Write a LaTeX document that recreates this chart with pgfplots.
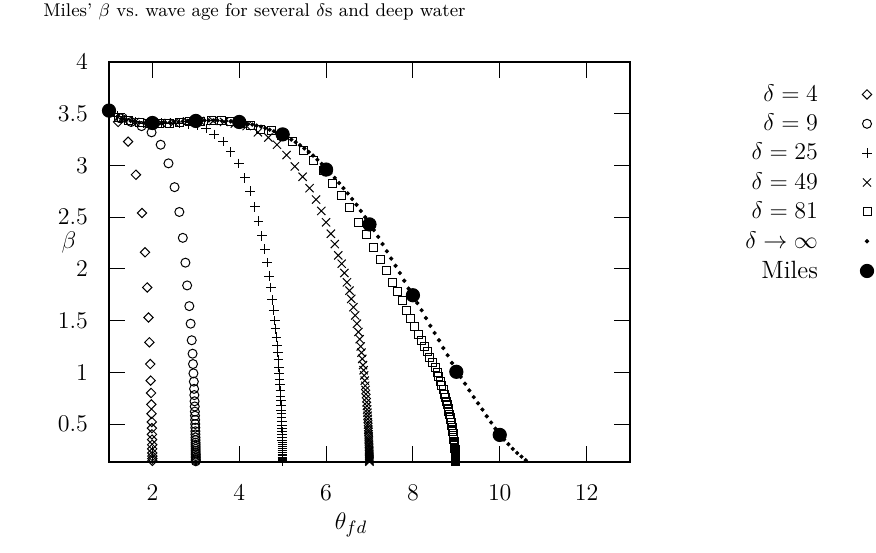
\documentclass[border=0pt]{standalone}
\usepackage{pgfplots}
\pgfplotsset{compat=1.18}
\newcommand\lbl{\fontsize{12.5}{15}\selectfont}
\newcommand\deltainf{$\delta\rightarrow\infty$}
\begin{document}
\begin{tikzpicture}
\useasboundingbox (-54.5pt,-45pt) rectangle (383.5pt,231pt);
\begin{axis}[
  at={(0pt,0pt)}, anchor=south west,
  scale only axis, width=260.5pt, height=200pt,
  xmin=1, xmax=13, ymin=0.133, ymax=4,
  xtick={2,4,...,12}, ytick={0.5,1,...,4},
  tick align=inside, major tick length=8pt,
  tick style={black, line width=0.5pt},
  axis line style={line width=0.6pt},
  ticklabel style={font=\lbl},
  xticklabel style={yshift=-8pt},
  yticklabel style={xshift=-7pt},
  clip=false,
  every axis plot/.append style={black, line width=0.5pt, only marks},
  legend cell align=right, legend plot pos=right,
  legend style={draw=none, fill=none, at={(1.476,0.9435)}, anchor=north east,
    inner sep=0pt, outer sep=0pt, row sep=4.85pt, column sep=0pt, font=\lbl,
    nodes={inner sep=0pt}},
  legend image code/.code={\path[draw=none, fill=none] (0pt,-3.6pt) rectangle (30pt,3.6pt);
    \draw[#1] plot coordinates {(24.5pt,0pt)};},
]
% delta = 4
\addplot[mark=square, mark size=1.65pt, mark options={rotate=45}] coordinates {
 (1.00,3.52) (1.21,3.42) (1.44,3.23) (1.62,2.91) (1.76,2.54) (1.83,2.16)
 (1.88,1.82) (1.91,1.53) (1.93,1.29) (1.95,1.08) (1.96,0.92) (1.97,0.80)
 (1.975,0.69) (1.98,0.60) (1.985,0.52) (1.988,0.46) (1.99,0.40) (1.992,0.35)
 (1.994,0.30) (1.995,0.26) (1.996,0.22) (1.997,0.19) (1.998,0.165) (1.999,0.145)
};
\addlegendentry{$\delta = 4$}
% delta = 9
\addplot[mark=o, mark size=2.25pt] coordinates {
 (1.02,3.51) (1.27,3.455) (1.51,3.42) (1.75,3.38) (1.98,3.32) (2.19,3.20)
 (2.37,3.02) (2.51,2.79) (2.62,2.55) (2.70,2.30) (2.76,2.06) (2.80,1.84)
 (2.85,1.64) (2.88,1.47) (2.905,1.31) (2.925,1.18) (2.935,1.08) (2.945,0.99)
 (2.954,0.91) (2.960,0.84) (2.966,0.78) (2.971,0.72) (2.975,0.67) (2.978,0.62)
 (2.981,0.58) (2.984,0.54) (2.986,0.50) (2.988,0.465) (2.990,0.43) (2.991,0.40)
 (2.992,0.37) (2.993,0.345) (2.994,0.32) (2.995,0.30) (2.996,0.28) (2.996,0.26)
 (2.997,0.24) (2.997,0.22) (2.998,0.205) (2.998,0.19) (2.998,0.175) (2.999,0.16)
 (2.999,0.15) (2.999,0.14)
};
\addlegendentry{$\delta = 9$}
% delta = 25
\addplot[mark=+, mark size=2.4pt] coordinates {
 (1.00,3.52) (1.20,3.475) (1.40,3.44) (1.60,3.42) (1.80,3.41) (2.00,3.41)
 (2.20,3.41) (2.41,3.41) (2.62,3.41) (2.83,3.40) (3.03,3.385) (3.24,3.357)
 (3.42,3.30) (3.63,3.23) (3.80,3.13) (3.99,3.02) (4.13,2.88) (4.25,2.75)
 (4.36,2.60) (4.44,2.46) (4.52,2.32) (4.59,2.19) (4.64,2.06) (4.69,1.93)
 (4.73,1.82) (4.76,1.70) (4.795,1.60) (4.82,1.50) (4.839,1.42) (4.856,1.34)
 (4.873,1.26) (4.887,1.19) (4.900,1.12) (4.912,1.05) (4.922,0.99) (4.931,0.93)
 (4.938,0.88) (4.946,0.82) (4.953,0.77) (4.957,0.73) (4.963,0.68) (4.968,0.635)
 (4.971,0.60) (4.975,0.56) (4.978,0.52) (4.981,0.49) (4.983,0.455) (4.986,0.425)
 (4.988,0.395) (4.989,0.37) (4.990,0.345) (4.992,0.32) (4.993,0.30) (4.994,0.28)
 (4.995,0.26) (4.995,0.24) (4.996,0.225) (4.996,0.21) (4.997,0.195) (4.997,0.18)
 (4.998,0.17) (4.998,0.16) (4.998,0.15) (4.998,0.14)
};
\addlegendentry{$\delta = 25$}
% delta = 49
\addplot[mark=x, mark size=2.9pt] coordinates {
 (1.00,3.52) (1.30,3.455) (1.60,3.42) (1.90,3.41) (2.20,3.41) (2.50,3.415)
 (2.80,3.425) (3.10,3.43) (3.40,3.43) (3.65,3.42) (3.90,3.405) (4.17,3.38)
 (4.43,3.32) (4.67,3.27) (4.87,3.20) (5.09,3.10) (5.28,2.99) (5.46,2.89)
 (5.62,2.78) (5.77,2.67) (5.89,2.56) (6.00,2.45) (6.11,2.34) (6.20,2.24)
 (6.28,2.13) (6.36,2.05) (6.42,1.96) (6.48,1.87) (6.54,1.79) (6.58,1.71)
 (6.63,1.63) (6.67,1.55) (6.71,1.47) (6.745,1.39) (6.774,1.32) (6.797,1.25)
 (6.816,1.19) (6.834,1.13) (6.851,1.07) (6.865,1.02) (6.878,0.97) (6.890,0.92)
 (6.902,0.87) (6.910,0.83) (6.919,0.79) (6.927,0.75) (6.934,0.71) (6.941,0.675)
 (6.947,0.64) (6.952,0.61) (6.956,0.58) (6.961,0.55) (6.965,0.52) (6.968,0.495)
 (6.971,0.47) (6.974,0.445) (6.977,0.425) (6.979,0.40) (6.981,0.38) (6.983,0.36)
 (6.985,0.345) (6.986,0.33) (6.988,0.31) (6.989,0.295) (6.990,0.28) (6.991,0.265)
 (6.992,0.25) (6.993,0.24) (6.993,0.23) (6.994,0.215) (6.995,0.205) (6.995,0.195)
 (6.996,0.185) (6.996,0.175) (6.996,0.165) (6.997,0.158) (6.997,0.15) (6.997,0.143)
 (6.998,0.136)
};
\addlegendentry{$\delta = 49$}
% delta = 81
\addplot[mark=square, mark size=2pt] coordinates {
 (1.00,3.52) (1.23,3.465) (1.46,3.435) (1.70,3.415) (1.93,3.41) (2.16,3.41)
 (2.40,3.41) (2.63,3.415) (2.86,3.42) (3.10,3.425) (3.35,3.43) (3.58,3.43)
 (3.80,3.42) (4.02,3.41) (4.25,3.385) (4.48,3.35) (4.74,3.34) (4.98,3.29)
 (5.23,3.23) (5.48,3.14) (5.71,3.05) (5.94,2.95) (6.15,2.83) (6.36,2.71)
 (6.55,2.59) (6.75,2.45) (6.92,2.33) (7.09,2.21) (7.25,2.09) (7.39,1.98)
 (7.52,1.87) (7.64,1.78) (7.75,1.69) (7.86,1.60) (7.95,1.52) (8.04,1.44)
 (8.12,1.37) (8.19,1.31) (8.26,1.25) (8.33,1.20) (8.39,1.145) (8.45,1.095)
 (8.51,1.045) (8.56,1.00) (8.599,0.955) (8.636,0.91) (8.667,0.87) (8.697,0.83)
 (8.725,0.79) (8.749,0.755) (8.772,0.72) (8.794,0.685) (8.811,0.655) (8.828,0.625)
 (8.844,0.595) (8.860,0.565) (8.872,0.54) (8.883,0.515) (8.894,0.49) (8.903,0.47)
 (8.913,0.445) (8.921,0.425) (8.928,0.405) (8.935,0.385) (8.940,0.37) (8.946,0.35)
 (8.951,0.335) (8.955,0.32) (8.959,0.305) (8.963,0.29) (8.967,0.275) (8.969,0.265)
 (8.972,0.25) (8.975,0.24) (8.977,0.23) (8.979,0.22) (8.981,0.21) (8.982,0.20)
 (8.984,0.19) (8.986,0.18) (8.987,0.17) (8.989,0.16) (8.990,0.153) (8.991,0.146)
 (8.991,0.14)
};
\addlegendentry{$\delta = 81$}
% deep water
\addplot[mark=*, mark size=0.8pt] coordinates {
 (1.0,3.53) (1.1,3.50) (1.2,3.475) (1.3,3.455) (1.4,3.44) (1.5,3.43)
 (1.6,3.42) (1.7,3.415) (1.8,3.41) (1.9,3.41) (2.0,3.41) (2.1,3.41)
 (2.2,3.41) (2.3,3.415) (2.4,3.415) (2.5,3.42) (2.6,3.42) (2.7,3.425)
 (2.8,3.43) (2.9,3.43) (3.0,3.43) (3.1,3.435) (3.2,3.435) (3.3,3.435)
 (3.4,3.435) (3.5,3.435) (3.6,3.43) (3.7,3.43) (3.8,3.425) (3.9,3.42)
 (4.0,3.42) (4.1,3.41) (4.2,3.40) (4.3,3.395) (4.4,3.385) (4.5,3.375)
 (4.6,3.36) (4.7,3.345) (4.8,3.33) (4.9,3.315) (5.0,3.30) (5.1,3.275)
 (5.2,3.25) (5.3,3.225) (5.4,3.195) (5.5,3.165) (5.6,3.13) (5.7,3.095)
 (5.8,3.055) (5.9,3.015) (6.0,2.97) (6.1,2.925) (6.2,2.88) (6.3,2.83)
 (6.4,2.78) (6.5,2.73) (6.6,2.675) (6.7,2.62) (6.8,2.56) (6.9,2.50)
 (7.0,2.44) (7.1,2.375) (7.2,2.31) (7.3,2.24) (7.4,2.17) (7.5,2.10)
 (7.6,2.03) (7.7,1.96) (7.8,1.885) (7.9,1.81) (8.0,1.74) (8.1,1.67)
 (8.2,1.60) (8.3,1.525) (8.4,1.45) (8.5,1.38) (8.6,1.31) (8.7,1.235)
 (8.8,1.165) (8.9,1.09) (9.0,1.02) (9.1,0.955) (9.2,0.89) (9.3,0.825)
 (9.4,0.76) (9.5,0.70) (9.6,0.64) (9.7,0.575) (9.8,0.515) (9.9,0.455)
 (10.0,0.40) (10.1,0.35) (10.2,0.305) (10.3,0.26) (10.4,0.22) (10.5,0.185)
 (10.6,0.15)
};
\addlegendentry{\deltainf}
% Miles
\addplot[mark=*, mark size=3.3pt] coordinates {
 (1,3.53) (2,3.41) (3,3.43) (4,3.42) (5,3.30)
 (6,2.96) (7,2.43) (8,1.745) (9,1.005) (10,0.395)
};
\addlegendentry{Miles}
\end{axis}
\node[anchor=base west, inner sep=0pt, font=\fontsize{9.2}{11}\selectfont]
  at (-33pt,222.65pt) {Miles' $\beta$ vs.\ wave age for several $\delta$s and deep water};
\node[anchor=base, inner sep=0pt, font=\lbl] at (121pt,-33.5pt) {$\theta_{fd}$};
\node[anchor=base, inner sep=0pt, font=\lbl] at (-20pt,107pt) {$\beta$};
\end{tikzpicture}
\end{document}
